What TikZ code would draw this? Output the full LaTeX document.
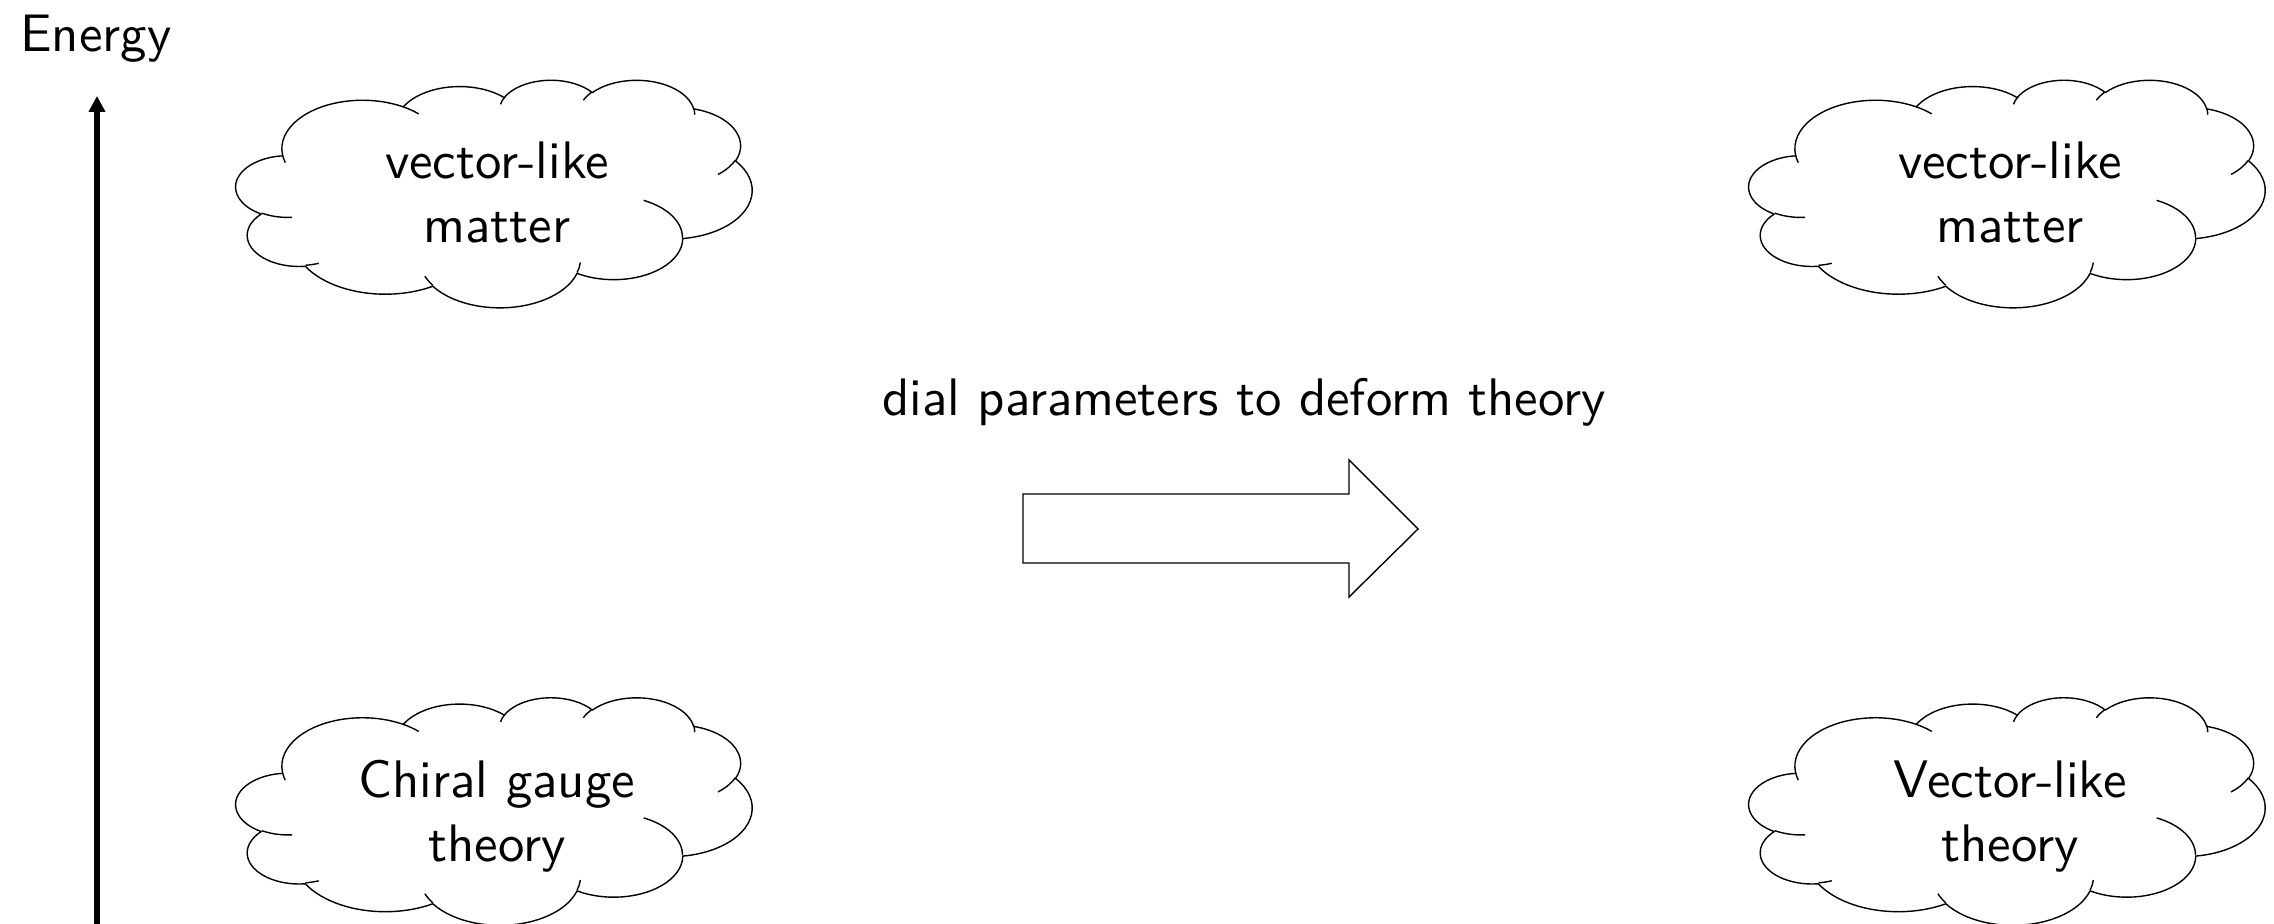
\documentclass[tikz,border=0pt]{standalone}
\usepackage{fontspec}
\setsansfont{lmsans10-regular}[Extension=.otf]
\usetikzlibrary{arrows.meta}
\tikzset{
  lbl/.style={font=\sffamily\fontsize{26.4}{32}\selectfont, inner sep=0pt},
  cloudline/.style={line width=0.7pt, fill=white, line join=round},
  cloudinner/.style={line width=0.7pt},
  axisarrow/.style={line width=3pt, -{Triangle[length=8pt,width=8pt]}},
  blockarrow/.style={line width=0.7pt, line join=miter, fill=white},
}
\newcommand\drawcloudat[2]{%
 \begin{scope}[shift={(#1,#2)}, x=2.58pt, y=-1.1375pt]
  \draw[cloudline] (9.0278,33.2639)
    arc[start angle=-187.746, end angle=-59.636, x radius=15.6319, y radius=21.2731]
    arc[start angle=-152.022, end angle=-45.425, x radius=12.3449, y radius=16.8218]
    arc[start angle=-153.49, end angle=-37.33, x radius=10.1042, y radius=13.7616]
    arc[start angle=-139.69, end angle=-10.21, x radius=11.2431, y radius=15.2662]
    arc[start angle=-74.77, end angle=23.21, x radius=12.3449, y radius=16.8356]
    arc[start angle=-37.52, end angle=81.86, x radius=15.6829, y radius=21.3426]
    arc[start angle=0.46, end angle=121.98, x radius=13.3912, y radius=18.2106]
    arc[start angle=16.845, end angle=146.25, x radius=15.6296, y radius=21.3310]
    arc[start angle=58.98, end angle=150.19, x radius=17.8704, y radius=24.4051]
    arc[start angle=-276.69, end angle=-136.89, x radius=10.0926, y radius=13.6991]
    arc[start angle=-239.64, end angle=-95.89, x radius=10.0579, y radius=13.7616]
    -- cycle;
  \draw[cloudinner]
    (10.8634,60.5949) arc[start angle=85.55, end angle=120.36, x radius=10.0579, y radius=13.7616]
    (16.0370,80.7847) arc[start angle=68.23, end angle=83.31, x radius=10.0926, y radius=13.6991]
    (38.1435,90.4861) arc[start angle=146.25, end angle=158.47, x radius=15.6296, y radius=21.3310]
    (66.7292,80.4421) arc[start angle=4.738, end angle=16.845, x radius=15.6296, y radius=21.3310]
    (79.0023,53.1343) arc[start angle=-64.03, end angle=0.46, x radius=13.3912, y radius=18.2106]
    (96.7546,35.5417) arc[start angle=23.21, end angle=49.64, x radius=12.3449, y radius=16.8356]
    (88.7130,12.5602) arc[start angle=-10.21, end angle=0.82, x radius=11.2431, y radius=15.2662]
    (67.3102,9.1481) arc[start angle=-156.28, end angle=-139.69, x radius=11.2431, y radius=15.2662]
    (51.2523,10.9259) arc[start angle=-167.73, end angle=-153.49, x radius=10.1042, y radius=13.7616]
    (32.4074,12.0185) arc[start angle=-59.64, end angle=-45.75, x radius=15.6319, y radius=21.2731]
    (9.5532,36.5486) arc[start angle=163.19, end angle=172.25, x radius=15.6319, y radius=21.2731];
 \end{scope}}
\begin{document}
\begin{tikzpicture}[x=0.5pt, y=-0.5pt]
  \useasboundingbox (0,0) rectangle (2274,924);
  % energy axis
  \node[lbl, anchor=base west] (energy) at (20,52) {Energy};
  \coordinate (axisbot) at (97,930);
  \coordinate (axistop) at (97,96);
  \draw[axisarrow] (axisbot) -- (axistop);
  % clouds
  \drawcloudat{236}{79.5}
  \drawcloudat{1749}{79.5}
  \drawcloudat{236}{697}
  \drawcloudat{1749}{697}
  \node[lbl, anchor=base] (tl) at (497,179) {\begin{tabular}[t]{@{}c@{}}vector-like\\matter\end{tabular}};
  \node[lbl, anchor=base] (tr) at (2010,179) {\begin{tabular}[t]{@{}c@{}}vector-like\\matter\end{tabular}};
  \node[lbl, anchor=base] (bl) at (497,797) {\begin{tabular}[t]{@{}c@{}}Chiral gauge\\theory\end{tabular}};
  \node[lbl, anchor=base] (br) at (2010,797) {\begin{tabular}[t]{@{}c@{}}Vector-like\\theory\end{tabular}};
  % middle
  \node[lbl, anchor=base] (dial) at (1244,416) {dial parameters to deform theory};
  \coordinate (ba1) at (1023,494);
  \coordinate (ba2) at (1349,494);
  \coordinate (ba3) at (1349,460);
  \coordinate (tip) at (1418,529);
  \coordinate (ba5) at (1349,597);
  \coordinate (ba6) at (1349,563);
  \coordinate (ba7) at (1023,563);
  \draw[blockarrow] (ba1) -- (ba2) -- (ba3) -- (tip) -- (ba5) -- (ba6) -- (ba7) -- cycle;
\end{tikzpicture}
\end{document}
